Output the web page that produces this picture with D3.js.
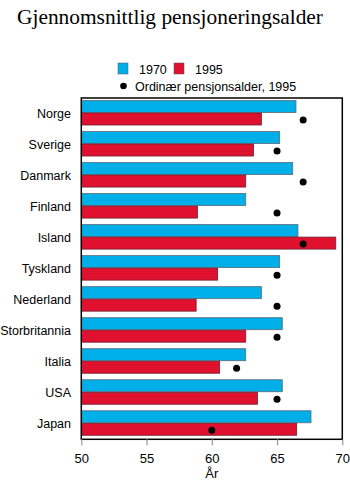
<!DOCTYPE html>
<html><head><meta charset="utf-8">
<script src="https://cdn.jsdelivr.net/npm/d3@7"></script>
<style>body{margin:0;background:#fff}svg{display:block}</style>
</head><body>
<script>
const countries = ["Norge","Sverige","Danmark","Finland","Island","Tyskland","Nederland","Storbritannia","Italia","USA","Japan"];
const values1970 = [66.45,65.2,66.2,62.6,66.6,65.2,63.8,65.4,62.6,65.4,67.6];
const values1995 = [63.8,63.2,62.6,58.9,69.5,60.45,58.8,62.6,60.6,63.5,66.5];
const ordinaryAge = [67,65,67,65,67,65,65,65,61.9,65,60];
const xTicks = [50,55,60,65,70];
const seriesNames = ["1970","1995"];
const colors = {"1970":"#00aee8","1995":"#e0102f"};

(function(){
const W=350,H=482;
const svg=d3.select("body").append("svg").attr("width",W).attr("height",H);
const mLeft=81.3,mRight=342.3,mTop=98,mBottom=439.3;
const x=d3.scaleLinear().domain([50,70]).range([mLeft,mRight]);
const y=d3.scaleBand().domain(countries).range([mTop,mBottom]).paddingInner(0).paddingOuter(0);
const bh=12;

svg.append("text").attr("x",17).attr("y",24).attr("font-family","Liberation Serif, Times New Roman, serif")
  .attr("font-size",21.4).attr("fill","#000").text("Gjennomsnittlig pensjoneringsalder");

// legend
const lg=svg.append("g").attr("font-family","Liberation Sans, Arial, sans-serif").attr("font-size",12.5);
seriesNames.forEach((s,i)=>{
  const lx=[118,174][i];
  lg.append("rect").attr("x",lx).attr("y",63).attr("width",10).attr("height",11).attr("fill",colors[s]).attr("stroke","#555").attr("stroke-width",0.5);
  lg.append("text").attr("x",lx+21).attr("y",73.5).text(s);
});
lg.append("circle").attr("cx",123.5).attr("cy",86).attr("r",3.3).attr("fill","#000");
lg.append("text").attr("x",135).attr("y",90.5).text("Ordinær pensjonsalder, 1995");

// bars
const g=svg.append("g");
countries.forEach((c,i)=>{
  const y0=y(c);
  g.append("rect").attr("x",x(50)).attr("y",y0+2.5).attr("width",x(values1970[i])-x(50)).attr("height",bh)
   .attr("fill",colors["1970"]).attr("stroke","#5a6a78").attr("stroke-width",0.8);
  g.append("rect").attr("x",x(50)).attr("y",y0+15).attr("width",x(values1995[i])-x(50)).attr("height",bh)
   .attr("fill",colors["1995"]).attr("stroke","#6a2030").attr("stroke-width",0.8);
  g.append("circle").attr("cx",x(ordinaryAge[i])).attr("cy",y0+22).attr("r",3.5).attr("fill","#000");
});

// frame
svg.append("rect").attr("x",mLeft).attr("y",mTop).attr("width",mRight-mLeft).attr("height",mBottom-mTop)
  .attr("fill","none").attr("stroke","#000").attr("stroke-width",1.5);

// x axis
const ax=svg.append("g").attr("transform",`translate(0,${mBottom})`)
  .call(d3.axisBottom(x).tickValues(xTicks).tickSize(6).tickPadding(8).tickFormat(d3.format("d")));
ax.select(".domain").remove();
ax.selectAll("line").attr("stroke","#999").attr("stroke-width",1.2);
ax.selectAll("text").attr("font-family","Liberation Sans, Arial, sans-serif").attr("font-size",13).attr("fill","#000");

svg.append("text").attr("x",x(60)).attr("y",478).attr("text-anchor","middle")
  .attr("font-family","Liberation Sans, Arial, sans-serif").attr("font-size",13).text("År");

// y labels
svg.append("g").selectAll("text").data(countries).join("text")
  .attr("x",71).attr("y",d=>y(d)+y.bandwidth()/2+4.5).attr("text-anchor","end")
  .attr("font-family","Liberation Sans, Arial, sans-serif").attr("font-size",12.5).text(d=>d);
})();
</script>
</body></html>
